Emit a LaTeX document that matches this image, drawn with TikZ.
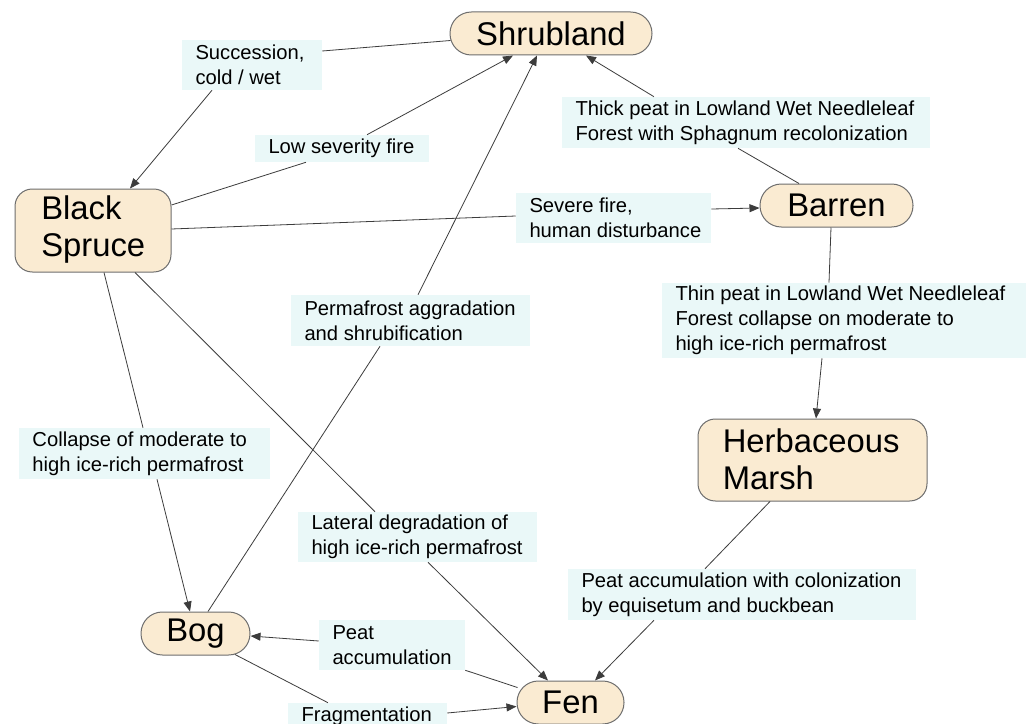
\documentclass[tikz,border=0pt]{standalone}
\usepackage{fontspec}
\setmainfont{Liberation Sans}
\usetikzlibrary{arrows.meta,calc}
\definecolor{statefill}{RGB}{250,235,210}
\definecolor{stateline}{RGB}{110,110,110}
\definecolor{lblfill}{RGB}{234,248,248}
\definecolor{edgecol}{RGB}{60,60,60}
\begin{document}
\begin{tikzpicture}[x=0.75pt,y=-0.75pt,
  pill/.style={draw=stateline, fill=statefill, line width=0.75pt, rounded corners=16pt,
    minimum height=32.25pt, inner sep=0pt, font=\fontsize{24.6}{27.75}\selectfont},
  sbox/.style={draw=stateline, fill=statefill, line width=0.75pt, rounded corners=13pt, inner sep=0pt},
  stxt/.style={inner sep=0pt, align=left, anchor=west, font=\fontsize{24.6}{27.75}\selectfont},
  lbl/.style={fill=lblfill, inner sep=0pt},
  ltxt/.style={inner sep=0pt, align=left, anchor=west, font=\fontsize{15.15}{18.75}\selectfont},
  edge/.style={draw=edgecol, line width=0.6pt},
  arr/.style={edge, -{Triangle[length=7.5pt,width=6pt]}}]
\useasboundingbox (0,0) rectangle (1029,724);
\fill[white] (0,0) rectangle (1029,724);

% state nodes
\node[pill, minimum width=151.5pt] (shrub) at (551,33.5) {Shrubland};
\node[pill, minimum width=114.75pt] (barren) at (836.5,205.5) {Barren};
\node[pill, minimum width=81.75pt] (bog) at (195.5,633.5) {Bog};
\node[pill, minimum width=80.25pt] (fen) at (570.5,702.5) {Fen};
\node[sbox, minimum width=117pt, minimum height=62.25pt] (bs) at (93,230.5) {};
\node[stxt] (bs-t) at ($(bs.west)+(26.5,-1)$) {Black\\Spruce};
\node[sbox, minimum width=171.75pt, minimum height=61.5pt] (hm) at (812.5,460) {};
\node[stxt] (hm-t) at ($(hm.west)+(25,-1)$) {Herbaceous\\Marsh};

% label nodes
\node[lbl, minimum width=105pt, minimum height=37.5pt] (succ) at (252,65) {};
\node[ltxt] (succ-t) at ($(succ.west)+(13.5,0)$) {Succession,\\cold / wet};
\node[lbl, minimum width=130.5pt, minimum height=20.25pt] (low) at (342,148.5) {};
\node[ltxt] (low-t) at ($(low.west)+(13.5,0)$) {Low severity fire};
\node[lbl, minimum width=146.25pt, minimum height=37.5pt] (severe) at (613.5,218) {};
\node[ltxt] (severe-t) at ($(severe.west)+(13.5,0)$) {Severe fire,\\human disturbance};
\node[lbl, minimum width=276pt, minimum height=38.25pt] (thick) at (746,122.5) {};
\node[ltxt] (thick-t) at ($(thick.west)+(13.5,0)$) {Thick peat in Lowland Wet Needleleaf\\Forest with Sphagnum recolonization};
\node[lbl, minimum width=179.25pt, minimum height=38.25pt] (perma) at (410.5,320.5) {};
\node[ltxt] (perma-t) at ($(perma.west)+(13.5,0)$) {Permafrost aggradation\\and shrubification};
\node[lbl, minimum width=273pt, minimum height=56.25pt] (thin) at (844,320.5) {};
\node[ltxt] (thin-t) at ($(thin.west)+(13.5,0)$) {Thin peat in Lowland Wet Needleleaf\\Forest collapse on moderate to\\high ice-rich permafrost};
\node[lbl, minimum width=188.25pt, minimum height=38.25pt] (collapse) at (144.5,453.5) {};
\node[ltxt] (collapse-t) at ($(collapse.west)+(13.5,0)$) {Collapse of moderate to\\high ice-rich permafrost};
\node[lbl, minimum width=179.25pt, minimum height=37.5pt] (lateral) at (417.5,537) {};
\node[ltxt] (lateral-t) at ($(lateral.west)+(13.5,0)$) {Lateral degradation of\\high ice-rich permafrost};
\node[lbl, minimum width=261pt, minimum height=38.25pt] (peatcol) at (742,594.5) {};
\node[ltxt] (peatcol-t) at ($(peatcol.west)+(13.5,0)$) {Peat accumulation with colonization\\by equisetum and buckbean};
\node[lbl, minimum width=109.5pt, minimum height=37.5pt] (peat) at (392,645) {};
\node[ltxt] (peat-t) at ($(peat.west)+(13.5,0)$) {Peat\\accumulation};
\node[lbl, minimum width=119.25pt, minimum height=20.25pt] (frag) at (367.5,716.5) {};
\node[ltxt] (frag-t) at ($(frag.west)+(13.5,0)$) {Fragmentation};

% connectors
\draw[edge] ($(shrub.west)+(1,7)$) -- ($(succ.east)+(0,-14)$);
\draw[arr] ($(succ.south)+(-40,0)$) -- ($(bs.north)+(37,0)$);
\draw[edge] ($(bs.east)+(0,-25.5)$) -- ($(low.south)+(-36,0)$);
\draw[arr] ($(low.north)+(25,0)$) -- ($(shrub.south)+(-38,0)$);
\draw[edge] ($(bs.east)+(0,-1.5)$) -- ($(severe.west)+(0,-2)$);
\draw[arr] ($(severe.east)+(0,-9)$) -- ($(barren.west)+(0,2.5)$);
\draw[edge] ($(barren.north)+(-37.5,0)$) -- ($(thick.south)+(-8,0)$);
\draw[arr] ($(thick.north)+(-92,0)$) -- ($(shrub.south)+(35,0)$);
\draw[edge] ($(barren.south)+(-5.5,0)$) -- ($(thin.north)+(-15,0)$);
\draw[arr] ($(thin.south)+(-22,0)$) -- ($(hm.north)+(3.5,0)$);
\draw[edge] ($(hm.south)+(-42.5,0)$) -- ($(peatcol.north)+(-37,0)$);
\draw[arr] ($(peatcol.south)+(-88,0)$) -- ($(fen.north)+(24.5,0)$);
\draw[edge] ($(bs.south)+(11,0)$) -- ($(collapse.north)+(-1.5,0)$);
\draw[arr] ($(collapse.south)+(12.5,0)$) -- ($(bog.north)+(-5.5,0)$);
\draw[edge] ($(bs.south)+(42,0)$) -- ($(lateral.north)+(-42.5,0)$);
\draw[arr] ($(lateral.south)+(10.5,0)$) -- ($(fen.north)+(-22.5,0)$);
\draw[edge] ($(bog.north)+(12.5,0)$) -- ($(perma.south)+(-30.5,0)$);
\draw[arr] ($(perma.north)+(7.5,0)$) -- ($(shrub.south)+(-14,0)$);
\draw[edge] ($(fen.west)+(1,-15)$) -- (peat.south east);
\draw[arr] ($(peat.west)+(0,-4)$) -- ($(bog.east)+(0,2.5)$);
\draw[edge] ($(bog.south)+(39.5,-1)$) -- ($(frag.north)+(-39.5,0)$);
\draw[arr] ($(frag.east)+(0,-3.5)$) -- ($(fen.west)+(0,4)$);
\end{tikzpicture}
\end{document}
